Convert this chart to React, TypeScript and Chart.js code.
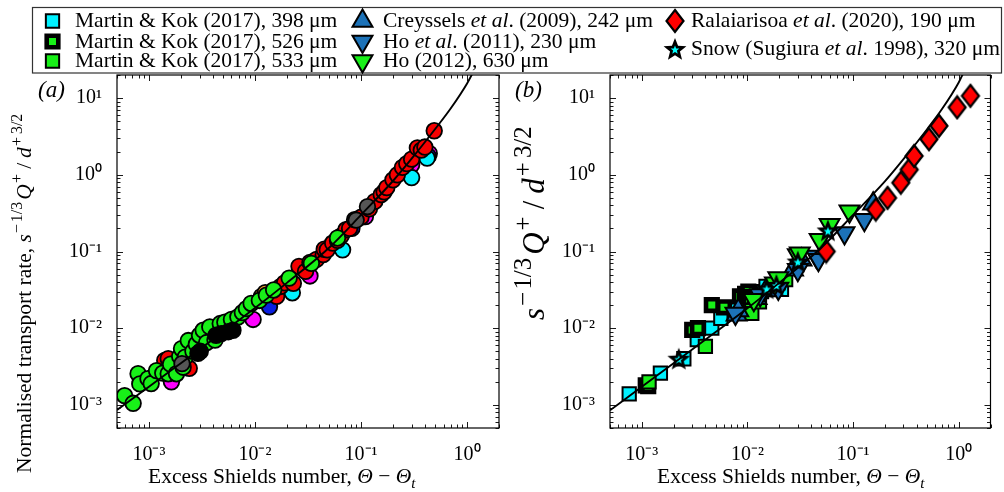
import React, { useEffect, useRef } from 'react';
import { Chart, registerables } from 'chart.js';

Chart.register(...registerables);

const W = 1004;
const H = 492;
const FONT = '"Liberation Serif", "Times New Roman", serif';

// ---------------- axes ----------------
const X_MIN = 5e-4;
const X_MAX = 2;
const Y_MIN = 5e-4;
const Y_MAX = 20;
const X_TICKS = [1e-3, 1e-2, 1e-1, 1];
const X_TICK_LABELS = ['10⁻³', '10⁻²', '10⁻¹', '10⁰'];
const Y_TICKS = [1e-3, 1e-2, 1e-1, 1, 10];
const Y_TICK_LABELS = ['10⁻³', '10⁻²', '10⁻¹', '10⁰', '10¹'];

// ---------------- fitted curves ----------------
const CURVE_X = [5e-4, 1e-3, 2e-3, 5e-3, 1e-2, 2e-2, 5e-2, 0.1, 0.2, 0.3, 0.5, 0.7, 1.0, 1.2];
const CURVE_A_Y = [8.6e-4, 1.73e-3, 3.5e-3, 8.9e-3, 1.83e-2, 3.9e-2, 0.112, 0.3, 0.83, 1.62, 3.95, 7.3, 15.5, 25];
const CURVE_B_Y = [8.5e-4, 1.72e-3, 3.5e-3, 8.9e-3, 1.82e-2, 3.9e-2, 0.112, 0.3, 0.82, 1.6, 3.9, 7.3, 16, 27];

// ---------------- panel (a): circles ----------------
const A_GREEN: [number, number][] = [
  [5.9e-4, 1.32e-3], [7.1e-4, 1.05e-3], [7.9e-4, 2.55e-3], [8.2e-4, 1.88e-3], [9.8e-4, 2.2e-3],
  [1.05e-3, 1.9e-3], [1.18e-3, 2.8e-3], [1.35e-3, 2.6e-3], [1.52e-3, 2.55e-3], [1.6e-3, 3.4e-3],
  [1.82e-3, 2.55e-3], [1.95e-3, 4.3e-3], [2.03e-3, 5.4e-3], [2.1e-3, 3.1e-3], [2.2e-3, 4.2e-3],
  [2.35e-3, 6.9e-3], [2.6e-3, 5.0e-3], [2.8e-3, 6.2e-3], [3.0e-3, 8.1e-3], [3.25e-3, 9.4e-3],
  [3.5e-3, 6.5e-3], [3.75e-3, 1.04e-2], [4.2e-3, 7.0e-3], [4.7e-3, 1.15e-2], [5.2e-3, 1.2e-2],
  [6.0e-3, 1.3e-2], [6.9e-3, 1.4e-2], [7.6e-3, 1.6e-2], [8.3e-3, 1.8e-2], [9.2e-3, 2.1e-2],
  [1.1e-2, 2.3e-2], [1.28e-2, 2.7e-2], [1.5e-2, 3.15e-2], [2.1e-2, 4.5e-2], [3.4e-2, 7.0e-2],
  [6.0e-2, 0.15],
];
const A_RED: [number, number][] = [
  [1.41e-3, 3.8e-3], [1.52e-3, 4.0e-3], [1.96e-3, 3.5e-3], [2.4e-3, 3.0e-3], [1.6e-2, 2.6e-2],
  [1.75e-2, 3.5e-2], [1.9e-2, 3.9e-2], [2.3e-2, 3.85e-2], [2.6e-2, 6.4e-2], [3.0e-2, 5.5e-2],
  [3.3e-2, 7.2e-2], [3.8e-2, 7.9e-2], [4.4e-2, 9.1e-2], [4.5e-2, 0.107], [4.8e-2, 0.105],
  [5.4e-2, 0.129], [6.0e-2, 0.14], [6.5e-2, 0.16], [7.2e-2, 0.192], [7.8e-2, 0.2], [0.1, 0.28],
  [0.12, 0.36], [0.135, 0.45], [0.155, 0.55], [0.165, 0.6], [0.175, 0.68], [0.2, 0.86],
  [0.22, 1.0], [0.246, 1.25], [0.27, 1.4], [0.3, 1.6], [0.34, 2.24], [0.37, 2.1], [0.4, 2.3],
  [0.49, 3.75],
];
const A_BLACK: [number, number][] = [
  [2.9e-3, 4.7e-3], [3.05e-3, 5.0e-3], [4.3e-3, 8.1e-3], [4.8e-3, 8.5e-3], [5.6e-3, 9.0e-3], [6.2e-3, 9.4e-3],
];
const A_GRAY: [number, number][] = [[2.05e-3, 3.45e-3], [8.7e-2, 0.26], [9.0e-2, 0.257], [0.115, 0.384]];
const A_MAGENTA: [number, number][] = [
  [1.63e-3, 2.0e-3], [9.6e-3, 1.3e-2], [3.3e-2, 4.8e-2], [0.11, 0.285], [0.3, 1.35], [0.41, 2.0], [0.44, 1.9],
];
const A_CYAN: [number, number][] = [[2.25e-2, 2.9e-2], [6.7e-2, 0.105], [0.3, 0.92], [0.42, 1.65]];
const A_BLUE: [number, number][] = [[1.37e-2, 1.9e-2], [8.2e-2, 0.2], [0.43, 1.75]];
const A_ORANGE: [number, number][] = [[1.15e-2, 2.6e-2], [1.25e-2, 2.9e-2]];

// ---------------- panel (b): datasets ----------------
const B_MK398: [number, number][] = [
  [7.6e-4, 1.39e-3], [1.5e-3, 2.6e-3], [2.5e-3, 4.0e-3], [3.35e-3, 7.1e-3], [4.6e-3, 1.0e-2],
  [5.6e-3, 1.34e-2], [8.0e-3, 1.8e-2], [1.36e-2, 3.0e-2], [1.5e-2, 3.5e-2], [2.1e-2, 3.2e-2],
];
const B_MK526: [number, number][] = [
  [1.09e-3, 1.8e-3], [1.15e-3, 1.75e-3], [3.0e-3, 9.5e-3], [3.4e-3, 1.0e-2], [4.6e-3, 2.0e-2],
  [6.0e-3, 1.87e-2], [8.5e-3, 2.6e-2], [9.5e-3, 2.8e-2], [1.02e-2, 3.0e-2], [1.02e-2, 2.57e-2],
];
const B_MK533: [number, number][] = [
  [1.17e-3, 2.0e-3], [4.0e-3, 5.8e-3], [1.1e-2, 1.56e-2], [1.1e-2, 2.3e-2], [1.3e-2, 2.2e-2],
  [1.95e-2, 3.9e-2], [2.3e-2, 4.3e-2],
];
const B_CREYSSELS: [number, number][] = [
  [7.9e-3, 1.5e-2], [8.2e-3, 1.7e-2], [1.22e-2, 2.45e-2], [1.5e-2, 3.1e-2], [2.7e-2, 5.8e-2],
  [3.25e-2, 7.8e-2], [0.155, 0.42],
];
const B_HO2011: [number, number][] = [
  [7.7e-3, 1.56e-2], [1.32e-2, 2.7e-2], [1.96e-2, 3.3e-2], [3.0e-2, 5.8e-2], [4.5e-2, 8.6e-2],
  [4.7e-2, 7.8e-2], [8.3e-2, 0.174], [0.128, 0.26],
];
const B_HO2012: [number, number][] = [
  [1.15e-2, 2.35e-2], [1.82e-2, 3.85e-2], [1.96e-2, 4.5e-2], [3.0e-2, 9.0e-2], [3.13e-2, 9.5e-2],
  [4.83e-2, 0.142], [6.0e-2, 0.224], [9.25e-2, 0.334],
];
const B_RALAIARISOA: [number, number][] = [
  [0.0557, 0.1], [0.164, 0.352], [0.212, 0.5], [0.283, 0.788], [0.34, 1.17], [0.378, 1.76],
  [0.523, 2.91], [0.65, 4.35], [0.967, 7.57], [1.29, 10.7],
];
const B_SNOW: [number, number][] = [
  [2.24e-3, 4.0e-3], [1.52e-2, 3.3e-2], [1.88e-2, 3.66e-2], [3.0e-2, 7.4e-2], [5.78e-2, 0.188],
];

// ---------------- text ----------------
type Seg = { t: string; it?: boolean; sup?: boolean; sub?: boolean; gap?: number };

const X_TITLE: Seg[] = [
  { t: 'Excess Shields number, ' }, { t: 'Θ', it: true }, { t: ' − ' }, { t: 'Θ', it: true }, { t: 't', it: true, sub: true },
];
const Q_LABEL: Seg[] = [
  { t: 's', it: true, gap: 0.06 }, { t: '−', sup: true, gap: 0.08 }, { t: '1/3', sup: true, gap: 0.1 },
  { t: 'Q', it: true, gap: 0.06 }, { t: '+', sup: true, gap: 0.24 }, { t: '/', gap: 0.22 },
  { t: 'd', it: true, gap: 0.06 }, { t: '+', sup: true, gap: 0.14 }, { t: '3/2', sup: true },
];
const A_Y_TITLE: Seg[] = [{ t: 'Normalised transport rate, ' }, ...Q_LABEL];

const LEGEND_LABELS: Seg[][] = [
  [{ t: 'Martin & Kok (2017), 398 μm' }],
  [{ t: 'Martin & Kok (2017), 526 μm' }],
  [{ t: 'Martin & Kok (2017), 533 μm' }],
  [{ t: 'Creyssels ' }, { t: 'et al', it: true }, { t: '. (2009), 242 μm' }],
  [{ t: 'Ho ' }, { t: 'et al', it: true }, { t: '. (2011), 230 μm' }],
  [{ t: 'Ho (2012), 630 μm' }],
  [{ t: 'Ralaiarisoa ' }, { t: 'et al', it: true }, { t: '. (2020), 190 μm' }],
  [{ t: 'Snow (Sugiura ' }, { t: 'et al', it: true }, { t: '. 1998), 320 μm' }],
];

// ---------------- helpers ----------------
function drawRich(ctx: CanvasRenderingContext2D, segs: Seg[], x: number, y: number, size: number, rot = 0, supScale = 0.7) {
  ctx.save();
  ctx.translate(x, y);
  if (rot) ctx.rotate(rot);
  ctx.textAlign = 'left';
  ctx.textBaseline = 'alphabetic';
  ctx.fillStyle = '#000';
  let cx = 0;
  for (const s of segs) {
    const small = s.sup || s.sub;
    const fs = small ? size * supScale : size;
    ctx.font = `${s.it ? 'italic ' : ''}${fs}px ${FONT}`;
    const dy = s.sup ? -size * 0.42 : s.sub ? size * 0.25 : 0;
    ctx.fillText(s.t, cx, dy);
    cx += ctx.measureText(s.t).width + (s.gap || 0) * size;
  }
  ctx.restore();
  return cx;
}

function makeStar(): HTMLCanvasElement {
  const c = document.createElement('canvas');
  c.width = 26;
  c.height = 26;
  const g = c.getContext('2d')!;
  const path = (R: number, r: number) => {
    g.beginPath();
    for (let i = 0; i < 10; i++) {
      const ang = -Math.PI / 2 + (i * Math.PI) / 5;
      const rad = i % 2 === 0 ? R : r;
      g.lineTo(13 + rad * Math.cos(ang), 14 + rad * Math.sin(ang));
    }
    g.closePath();
  };
  path(12, 5.2);
  g.fillStyle = '#000';
  g.fill();
  path(4.6, 2);
  g.fillStyle = '#00ffff';
  g.fill();
  return c;
}

function makeDiamond(): HTMLCanvasElement {
  const c = document.createElement('canvas');
  c.width = 22;
  c.height = 26;
  const g = c.getContext('2d')!;
  g.beginPath();
  g.moveTo(11, 2);
  g.lineTo(19.5, 13);
  g.lineTo(11, 24);
  g.lineTo(2.5, 13);
  g.closePath();
  g.fillStyle = '#ff0000';
  g.fill();
  g.lineWidth = 2.2;
  g.strokeStyle = '#000';
  g.lineJoin = 'miter';
  g.stroke();
  return c;
}

type MStyle = { style: any; r: number; fill: string; bw: number; rot?: number };

function drawMarker(ctx: CanvasRenderingContext2D, m: MStyle, x: number, y: number) {
  ctx.save();
  if (typeof m.style !== 'string') {
    ctx.drawImage(m.style, x - m.style.width / 2, y - m.style.height / 2);
    ctx.restore();
    return;
  }
  ctx.beginPath();
  if (m.style === 'rect') {
    const s = m.r * Math.SQRT1_2;
    ctx.rect(x - s, y - s, 2 * s, 2 * s);
  } else if (m.style === 'triangle') {
    let rad = ((m.rot || 0) * Math.PI) / 180;
    ctx.moveTo(x + Math.sin(rad) * m.r, y - Math.cos(rad) * m.r);
    rad += (2 * Math.PI) / 3;
    ctx.lineTo(x + Math.sin(rad) * m.r, y - Math.cos(rad) * m.r);
    rad += (2 * Math.PI) / 3;
    ctx.lineTo(x + Math.sin(rad) * m.r, y - Math.cos(rad) * m.r);
    ctx.closePath();
  }
  ctx.fillStyle = m.fill;
  ctx.fill();
  ctx.lineWidth = m.bw;
  ctx.strokeStyle = '#000';
  ctx.stroke();
  ctx.restore();
}

function pts(a: [number, number][]) {
  return a.map(([x, y]) => ({ x, y }));
}

function curve(ys: number[]) {
  return CURVE_X.map((x, i) => ({ x, y: ys[i] }));
}

function decorPlugin(id: string, draw: (chart: any) => void) {
  return {
    id,
    afterDatasetsDraw(chart: any) {
      const { ctx, chartArea: a, scales } = chart;
      const xs = scales.x;
      const ys = scales.y;
      ctx.save();
      ctx.strokeStyle = '#000';
      ctx.lineWidth = 0.9;
      ctx.beginPath();
      for (let e = -4; e <= 1; e++) {
        for (let m = 1; m <= 9; m++) {
          const v = m * Math.pow(10, e);
          const len = m === 1 ? 6 : 3.5;
          if (v >= X_MIN && v <= X_MAX) {
            const px = Math.round(xs.getPixelForValue(v)) + 0.5;
            ctx.moveTo(px, a.bottom);
            ctx.lineTo(px, a.bottom - len);
            ctx.moveTo(px, a.top);
            ctx.lineTo(px, a.top + len);
          }
          if (v >= Y_MIN && v <= Y_MAX) {
            const py = Math.round(ys.getPixelForValue(v)) + 0.5;
            ctx.moveTo(a.left, py);
            ctx.lineTo(a.left + len, py);
            ctx.moveTo(a.right, py);
            ctx.lineTo(a.right - len, py);
          }
        }
      }
      ctx.stroke();
      ctx.lineWidth = 1.2;
      ctx.strokeRect(a.left, a.top, a.right - a.left, a.bottom - a.top);
      ctx.restore();
    },
    afterDraw(chart: any) {
      draw(chart);
    },
  };
}

function scaleOpts(yWidth: number) {
  const tickFont = { family: FONT, size: 20 };
  return {
    x: {
      type: 'logarithmic',
      min: X_MIN,
      max: X_MAX,
      grid: { display: false },
      border: { display: false },
      afterBuildTicks: (s: any) => {
        s.ticks = X_TICKS.map((v) => ({ value: v }));
      },
      afterFit: (s: any) => {
        s.height = 64;
      },
      ticks: {
        autoSkip: false,
        maxRotation: 0,
        minRotation: 0,
        padding: 7,
        color: '#000',
        font: tickFont,
        callback: (_v: any, i: number) => X_TICK_LABELS[i],
      },
    },
    y: {
      type: 'logarithmic',
      min: Y_MIN,
      max: Y_MAX,
      grid: { display: false },
      border: { display: false },
      afterBuildTicks: (s: any) => {
        s.ticks = Y_TICKS.map((v) => ({ value: v }));
      },
      afterFit: (s: any) => {
        s.width = yWidth;
      },
      ticks: {
        autoSkip: false,
        padding: 7,
        color: '#000',
        font: tickFont,
        callback: (_v: any, i: number) => Y_TICK_LABELS[i],
      },
    },
  };
}

function circleSet(data: [number, number][], color: string) {
  return {
    data: pts(data),
    pointStyle: 'circle',
    pointRadius: 7.8,
    backgroundColor: color,
    borderColor: '#000',
    borderWidth: 1.8,
    showLine: false,
  };
}

function lineSet(ys: number[]) {
  return {
    data: curve(ys),
    showLine: true,
    pointRadius: 0,
    borderColor: '#000',
    borderWidth: 1.9,
    cubicInterpolationMode: 'monotone',
    fill: false,
  };
}

export default function App() {
  const refA = useRef<HTMLCanvasElement>(null);
  const refB = useRef<HTMLCanvasElement>(null);

  useEffect(() => {
    Chart.defaults.font.family = FONT;
    const star = makeStar();
    const diamond = makeDiamond();

    const BLUE = '#1c72b8';
    const GREEN = '#18f018';
    const CYAN = '#00f2ff';
    const M: MStyle[] = [
      { style: 'rect', r: 9.4, fill: CYAN, bw: 2 },
      { style: 'rect', r: 8.2, fill: GREEN, bw: 4.6 },
      { style: 'rect', r: 9.4, fill: GREEN, bw: 2 },
      { style: 'triangle', r: 11.5, fill: BLUE, bw: 2, rot: 0 },
      { style: 'triangle', r: 11.5, fill: BLUE, bw: 2, rot: 180 },
      { style: 'triangle', r: 11.5, fill: GREEN, bw: 2, rot: 180 },
      { style: diamond, r: 9, fill: '#ff0000', bw: 2 },
      { style: star, r: 9, fill: CYAN, bw: 0 },
    ];
    const bData = [B_MK398, B_MK526, B_MK533, B_CREYSSELS, B_HO2011, B_HO2012, B_RALAIARISOA, B_SNOW];
    const bSets = bData.map((d, i) => ({
      data: pts(d),
      pointStyle: M[i].style,
      pointRadius: M[i].r,
      pointRotation: M[i].rot || 0,
      backgroundColor: M[i].fill,
      borderColor: '#000',
      borderWidth: M[i].bw,
      showLine: false,
    }));

    const commonOpts = {
      responsive: false,
      animation: false,
      events: [],
      devicePixelRatio: 1,
      plugins: { legend: { display: false }, tooltip: { enabled: false } },
    };

    const chartA = new Chart(refA.current!, {
      type: 'scatter',
      data: {
        datasets: [
          lineSet(CURVE_A_Y),
          circleSet(A_GRAY, '#555555'),
          circleSet(A_BLACK, '#000000'),
          circleSet(A_GREEN, GREEN),
          circleSet(A_RED, '#f50000'),
          circleSet(A_ORANGE, '#f0a030'),
          circleSet(A_CYAN, CYAN),
          circleSet(A_BLUE, '#0a1ee0'),
          circleSet(A_MAGENTA, '#ff00ff'),
        ] as any,
      },
      options: {
        ...commonOpts,
        layout: { padding: { left: 0, right: 505, top: 75, bottom: 0 } },
        scales: scaleOpts(117) as any,
      } as any,
      plugins: [
        decorPlugin('decorA', (chart: any) => {
          const ctx = chart.ctx as CanvasRenderingContext2D;
          drawRich(ctx, X_TITLE, 148, 483, 21.5);
          drawRich(ctx, A_Y_TITLE, 31, 473, 21.5, -Math.PI / 2, 0.74);
          drawRich(ctx, [{ t: '(a)', it: true }], 38, 97, 23);
        }),
      ],
    });

    const chartB = new Chart(refB.current!, {
      type: 'scatter',
      data: {
        datasets: [
          lineSet(CURVE_B_Y),
          bSets[7],
          bSets[6],
          bSets[5],
          bSets[4],
          bSets[3],
          bSets[2],
          bSets[1],
          bSets[0],
        ] as any,
      },
      options: {
        ...commonOpts,
        layout: { padding: { left: 530, right: 11, top: 75, bottom: 0 } },
        scales: scaleOpts(80) as any,
      } as any,
      plugins: [
        decorPlugin('decorB', (chart: any) => {
          const ctx = chart.ctx as CanvasRenderingContext2D;
          drawRich(ctx, X_TITLE, 657, 483, 21.5);
          drawRich(ctx, Q_LABEL, 544, 320, 31, -Math.PI / 2, 0.8);
          drawRich(ctx, [{ t: '(b)', it: true }], 515, 97, 23);
          // legend
          ctx.save();
          ctx.fillStyle = '#fff';
          ctx.fillRect(32.5, 7.5, 969, 65.5);
          ctx.strokeStyle = '#333';
          ctx.lineWidth = 1.2;
          ctx.strokeRect(32.5, 7.5, 969, 65.5);
          ctx.restore();
          const layout = [
            { mx: 52.5, tx: 75, by: 27 },
            { mx: 52.5, tx: 75, by: 47.5 },
            { mx: 52.5, tx: 75, by: 67 },
            { mx: 362.5, tx: 383, by: 27 },
            { mx: 362.5, tx: 383, by: 47.5 },
            { mx: 362.5, tx: 383, by: 67 },
            { mx: 675, tx: 691, by: 27 },
            { mx: 675, tx: 691, by: 55 },
          ];
          LEGEND_LABELS.forEach((segs, i) => {
            const L = layout[i];
            drawMarker(ctx, M[i], L.mx, L.by - 6);
            drawRich(ctx, segs, L.tx, L.by, 21.5);
          });
        }),
      ],
    });

    return () => {
      chartA.destroy();
      chartB.destroy();
    };
  }, []);

  return (
    <div style={{ position: 'fixed', left: 0, top: 0, width: W, height: H, background: '#fff' }}>
      <canvas ref={refA} width={W} height={H} style={{ position: 'absolute', left: 0, top: 0 }} />
      <canvas ref={refB} width={W} height={H} style={{ position: 'absolute', left: 0, top: 0 }} />
    </div>
  );
}
